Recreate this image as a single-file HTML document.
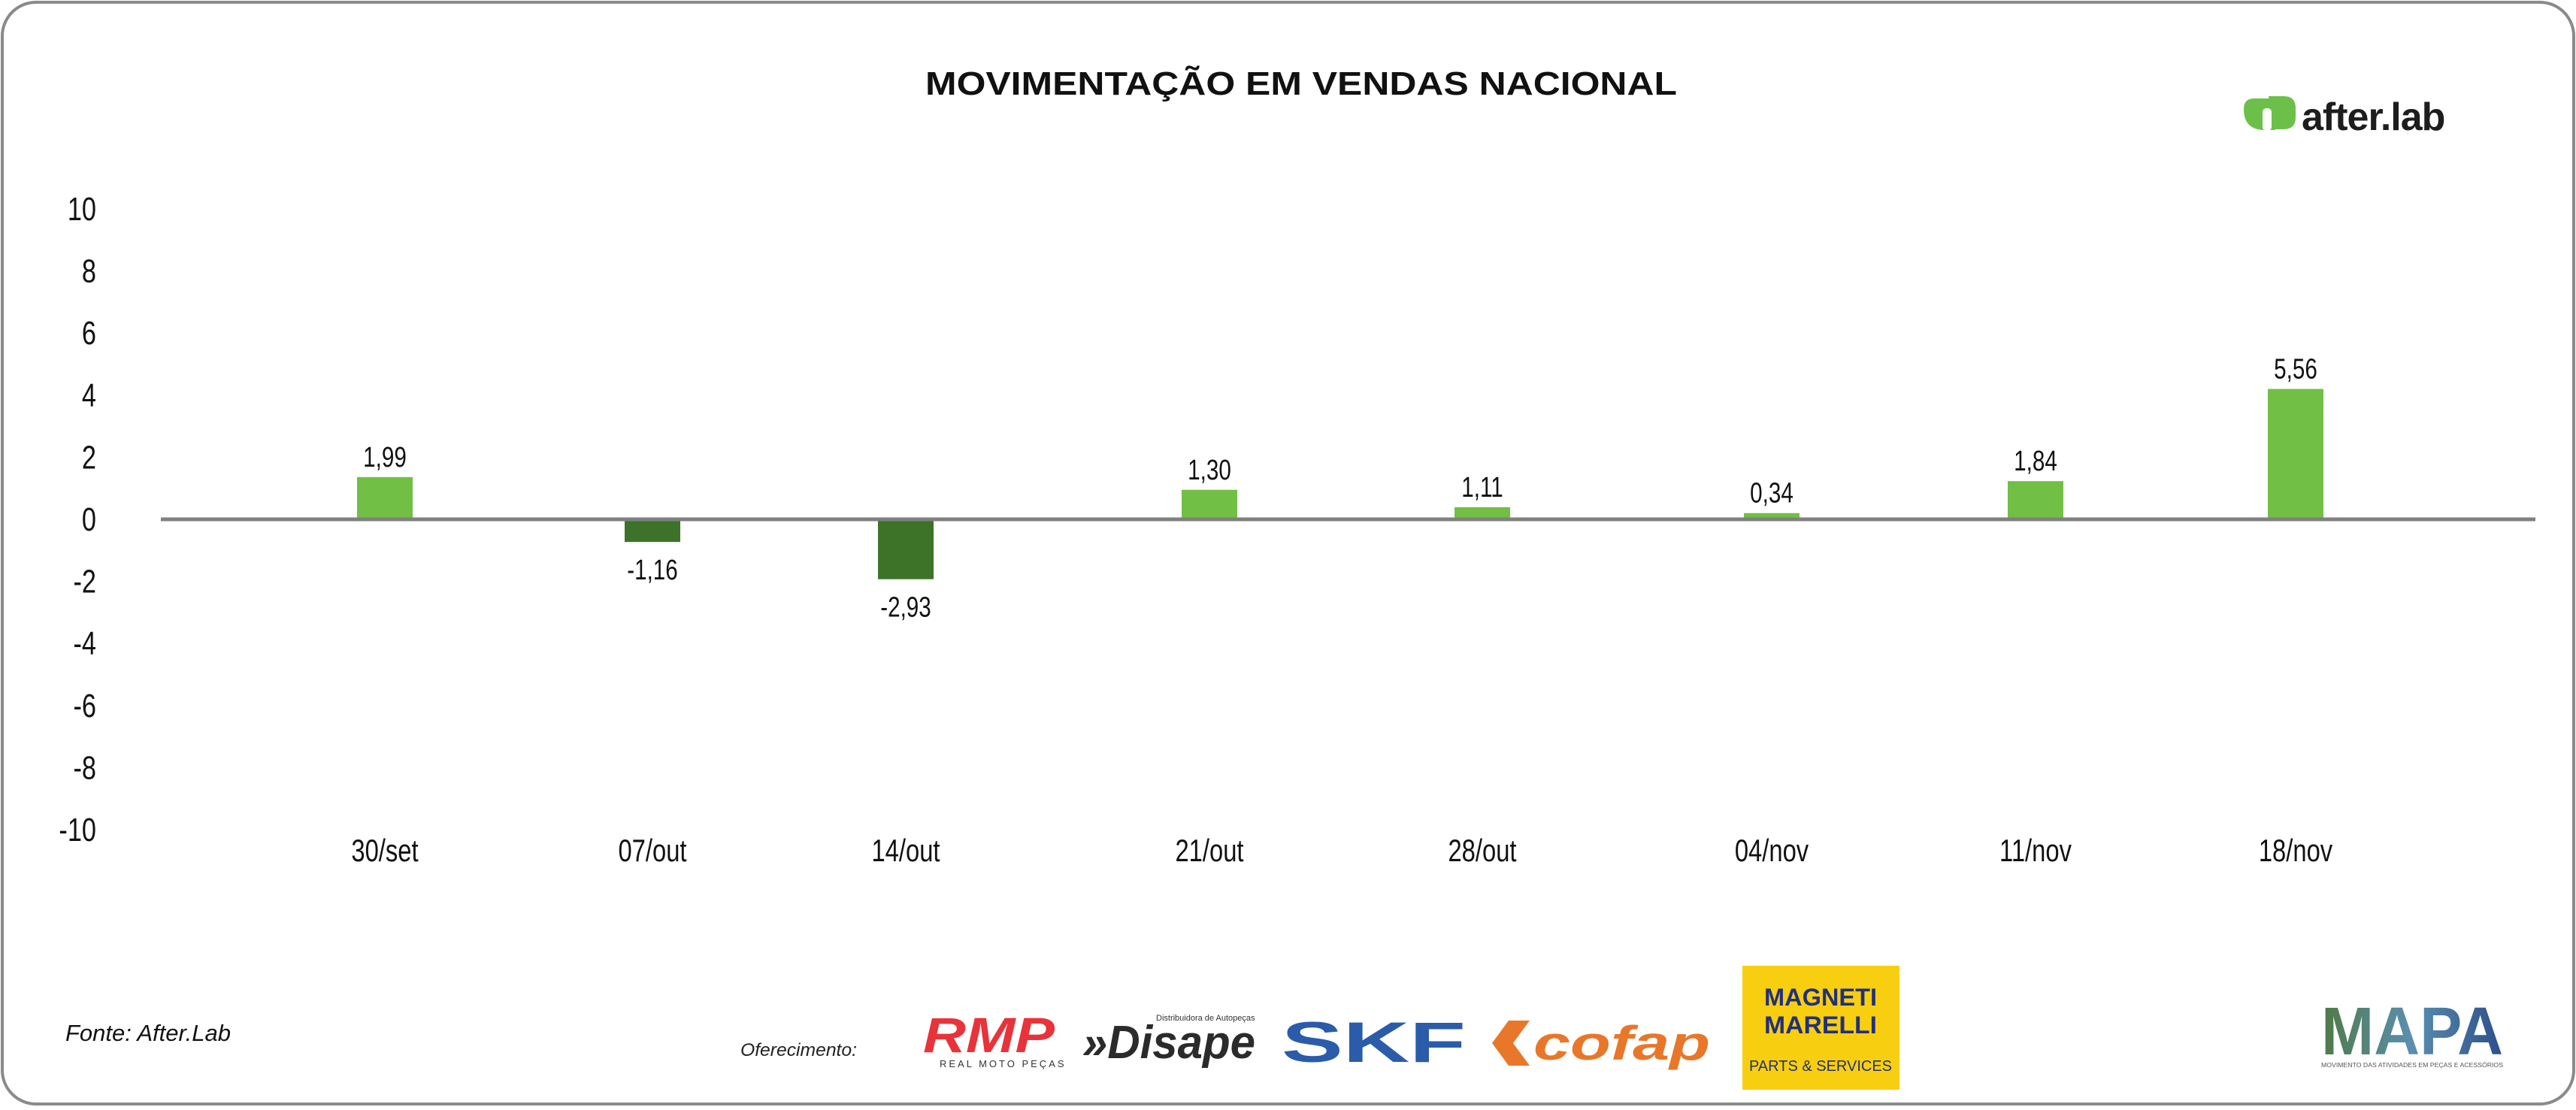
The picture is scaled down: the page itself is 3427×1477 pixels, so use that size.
<!DOCTYPE html>
<html><head><meta charset="utf-8">
<style>
html,body{margin:0;padding:0;background:#fff;}
body{width:3427px;height:1472px;position:relative;overflow:hidden;font-family:"Liberation Sans",sans-serif;}
</style></head>
<body>
<svg width="3427" height="1472" viewBox="0 0 3427 1472" xmlns="http://www.w3.org/2000/svg">
  <rect x="3" y="3" width="3421" height="1466" rx="45" ry="45" fill="#fff" stroke="#8a8a8a" stroke-width="4"/>
  <text x="1731" y="126" text-anchor="middle" font-family="Liberation Sans, sans-serif" font-weight="bold" font-size="44" fill="#111" textLength="1000" lengthAdjust="spacingAndGlyphs">MOVIMENTAÇÃO EM VENDAS NACIONAL</text>
  <g>
    <path d="M2985 145 q0-14 14-14 h28 v42 h-14 q-28 0 -28-28z" fill="#6cc04a"/>
    <path d="M3018 128 h20 q16 0 16 16 v12 q0 16-16 16 h-16 z" fill="#6cc04a"/>
    <rect x="3010" y="144" width="12" height="30" rx="5" fill="#fff"/>
    <text x="3062" y="173" font-family="Liberation Sans, sans-serif" font-weight="bold" font-size="52" fill="#1d1d1d" letter-spacing="-1">after.lab</text>
  </g>
  <g id="yaxis"></g>
  <g id="bars"></g>
  <g id="xaxis"></g>
  <text x="87" y="1385" font-style="italic" font-size="31" fill="#111">Fonte: After.Lab</text>
  <text x="985" y="1405" font-style="italic" font-size="24" fill="#222" textLength="155" lengthAdjust="spacingAndGlyphs">Oferecimento:</text>
  <g>
    <text x="1228" y="1400" font-weight="bold" font-style="italic" font-size="66" fill="#e8333a" textLength="175" lengthAdjust="spacingAndGlyphs">RMP</text>
    <text x="1250" y="1420" font-size="13" fill="#333" letter-spacing="3">REAL MOTO PEÇAS</text>
  </g>
  <g>
    <text x="1440" y="1408" font-weight="bold" font-style="italic" font-size="62" fill="#2b2b2b" textLength="230" lengthAdjust="spacingAndGlyphs">»Disape</text>
    <text x="1538" y="1358" font-size="11" fill="#333">Distribuidora de Autopeças</text>
  </g>
  <text x="1705" y="1413" font-weight="bold" font-size="76" fill="#2a5caa" textLength="245" lengthAdjust="spacingAndGlyphs">SKF</text>
  <g>
    <path d="M1985 1388 l22-30 h28 l-22 30 l22 30 h-28z" fill="#e8772a"/>
    <text x="2040" y="1410" font-weight="bold" font-style="italic" font-size="64" fill="#e8772a" textLength="235" lengthAdjust="spacingAndGlyphs">cofap</text>
  </g>
  <g>
    <rect x="2318" y="1285" width="209" height="165" fill="#f8cf10"/>
    <text x="2422" y="1338" text-anchor="middle" font-weight="bold" font-size="32" fill="#22307a" textLength="150" lengthAdjust="spacingAndGlyphs">MAGNETI</text>
    <text x="2422" y="1375" text-anchor="middle" font-weight="bold" font-size="32" fill="#22307a" textLength="150" lengthAdjust="spacingAndGlyphs">MARELLI</text>
    <text x="2422" y="1425" text-anchor="middle" font-size="20" fill="#22307a">PARTS &amp; SERVICES</text>
  </g>
  <defs><linearGradient id="mg" x1="0" x2="1"><stop offset="0" stop-color="#4f7a45"/><stop offset="0.5" stop-color="#5a8fb0"/><stop offset="1" stop-color="#2d4f8a"/></linearGradient></defs>
  <g>
    <text x="3088" y="1403" font-weight="bold" font-size="90" fill="url(#mg)" textLength="242" lengthAdjust="spacingAndGlyphs">MAPA</text>
    <text x="3088" y="1420" font-size="8" fill="#555" textLength="242" lengthAdjust="spacingAndGlyphs">MOVIMENTO DAS ATIVIDADES EM PEÇAS E ACESSÓRIOS</text>
  </g>
</svg>
<script>
const categories = ["30/set","07/out","14/out","21/out","28/out","04/nov","11/nov","18/nov"];
const barValues = [1.36, -0.73, -1.93, 0.95, 0.39, 0.2, 1.23, 4.2];
const valueLabels = ["1,99","-1,16","-2,93","1,30","1,11","0,34","1,84","5,56"];
const yTicks = [10,8,6,4,2,0,-2,-4,-6,-8,-10];
const barCenters = [512, 868, 1205, 1609, 1972, 2357, 2708, 3054];

const NS = "http://www.w3.org/2000/svg";
const zeroY = 691, unit = 41.3, SX = 0.78;
function y(v){ return zeroY - v*unit; }
function mk(tag, attrs, parent){ const e=document.createElementNS(NS,tag); for(const k in attrs) e.setAttribute(k,attrs[k]); parent.appendChild(e); return e; }
function ntext(parent, x, yy, anchor, size, str){
  const t = mk('text',{x:x/SX,y:yy,'text-anchor':anchor,'font-size':size,fill:'#111',transform:'scale('+SX+' 1)'},parent);
  t.textContent = str;
  return t;
}
const ya = document.getElementById('yaxis');
yTicks.forEach(t=>{
  const tx = ntext(ya, 128, y(t)+15, 'end', 44, String(t));
  
  
});
const bg = document.getElementById('bars');
const xa = document.getElementById('xaxis');
categories.forEach((c,i)=>{
  const v = barValues[i], cx = barCenters[i], w = 74;
  const top = Math.min(y(v), zeroY), h = Math.abs(y(v)-zeroY);
  const r = mk('rect',{x:cx-w/2,y:top,width:w,height:h,fill: v>=0 ? '#71bf44' : '#3d7328'},bg);
  
  
  const ly = v>=0 ? y(v)-14 : y(v)+50;
  const lt = ntext(bg, cx, ly, 'middle', 38, valueLabels[i]);
  
  
  const ct = ntext(xa, cx, 1146, 'middle', 42, c);
  
  
});
const ax = mk('line',{x1:214,x2:3373,y1:zeroY,y2:zeroY,stroke:'#808080','stroke-width':5},xa);


</script>
</body></html>
